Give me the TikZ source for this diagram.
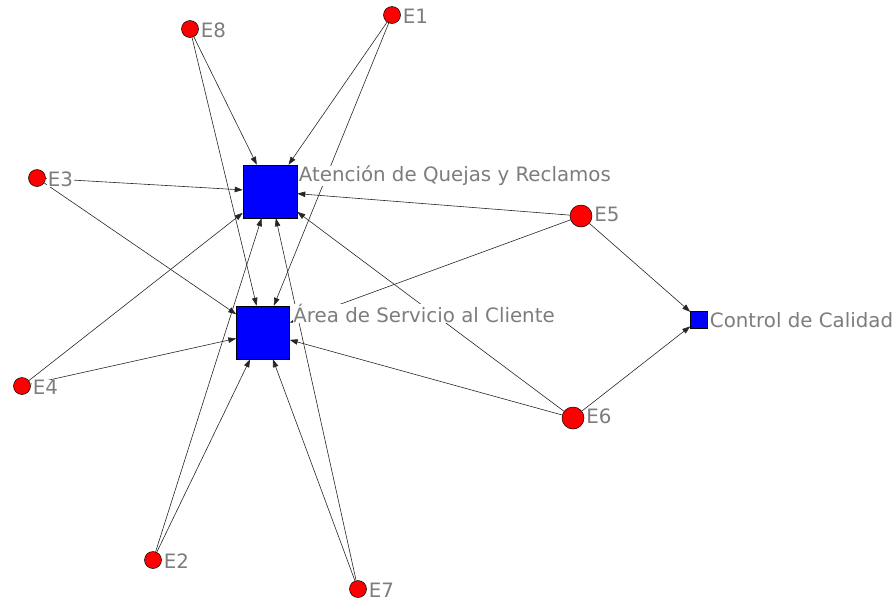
\documentclass[tikz,border=0pt]{standalone}
\usepackage{fontspec}
\setmainfont{DejaVu Sans}
\usetikzlibrary{arrows.meta,calc,backgrounds}
\definecolor{lblgray}{RGB}{125,125,125}
\definecolor{nodered}{RGB}{255,0,0}
\definecolor{nodeblue}{RGB}{0,0,255}
\begin{document}
\begin{tikzpicture}[x=1pt,y=-1pt,
  actor/.style={circle,draw=black,line width=0.5pt,fill=nodered,inner sep=0pt,minimum size=17pt},
  bigactor/.style={actor,minimum size=22pt},
  event/.style={rectangle,draw=black,line width=0.5pt,fill=nodeblue,inner sep=0pt},
  lbl/.style={anchor=base west,font=\fontsize{19.8}{22}\selectfont,text=lblgray,fill=white,inner sep=0pt,inner xsep=0.5pt},
  link/.style={line width=0.6pt,draw=black!85,-{Triangle[length=8pt,width=5.5pt]}}]
\useasboundingbox (0,0) rectangle (895,598);
% square nodes
\node[event,minimum width=54pt,minimum height=53pt] (atq) at (270,191.5) {};
\node[event,minimum width=53pt,minimum height=53pt] (asc) at (263,332.5) {};
\node[event,minimum size=17pt] (cc) at (699,319.5) {};
% circle nodes
\node[actor] (e8) at (190,29) {};
\node[actor] (e1) at (392,15) {};
\node[actor] (e3) at (37,178) {};
\node[bigactor] (e5) at (581,216) {};
\node[actor] (e4) at (22,386) {};
\node[bigactor] (e6) at (573,418) {};
\node[actor] (e2) at (153,560) {};
\node[actor] (e7) at (358,589) {};
% connectors
\begin{pgfonlayer}{background}
\foreach \s/\t in {e8/atq,e8/asc,e1/atq,e1/asc,e3/atq,e3/asc,e5/atq,e5/asc,e5/cc,
                   e4/atq,e4/asc,e6/atq,e6/asc,e6/cc,e2/atq,e2/asc,e7/atq,e7/asc}
  \draw[link] (\s) -- (\t);
\end{pgfonlayer}
% labels
\node[lbl] (latq) at ($(atq.east |- atq.north)+(1,17)$) {Atención de Quejas y Reclamos};
\node[lbl] (lasc) at ($(asc.east |- asc.north)+(3,17)$) {Área de Servicio al Cliente};
\node[lbl] (lcc) at ($(cc.east |- cc.north)+(1.5,17)$) {Control de Calidad};
\node[lbl] (le8) at ($(e8.east |- e8.north)+(1.5,17)$) {E8};
\node[lbl] (le1) at ($(e1.east |- e1.north)+(1.5,17)$) {E1};
\node[lbl] (le3) at ($(e3.east |- e3.north)+(1.5,17)$) {E3};
\node[lbl] (le5) at ($(e5.east |- e5.north)+(1.5,17)$) {E5};
\node[lbl] (le4) at ($(e4.east |- e4.north)+(1.5,17)$) {E4};
\node[lbl] (le6) at ($(e6.east |- e6.north)+(1.5,17)$) {E6};
\node[lbl] (le2) at ($(e2.east |- e2.north)+(1.5,17)$) {E2};
\node[lbl] (le7) at ($(e7.east |- e7.north)+(1.5,17)$) {E7};
\end{tikzpicture}
\end{document}
